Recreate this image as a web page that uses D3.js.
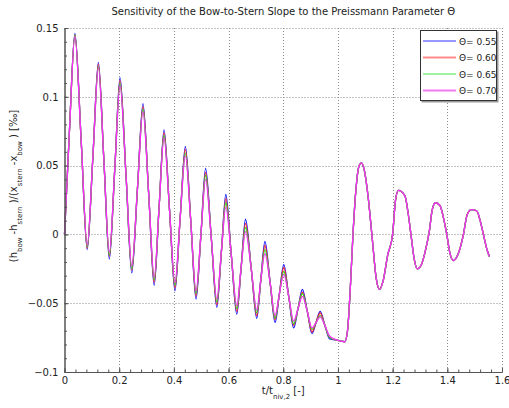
<!DOCTYPE html>
<html>
<head>
<meta charset="utf-8">
<script src="https://cdn.jsdelivr.net/npm/d3@7"></script>
<style>
  body { margin: 0; background: #fff; }
  text { font-family: 'DejaVu Sans', Verdana, sans-serif; fill: #222; }
</style>
</head>
<body>
<div id="chart"></div>
<script>
(function(d3) {
  'use strict';

  // time samples (t / t_niv,2)
  var tt = [
    0.000, 0.018, 0.038, 0.061, 0.083, 0.104, 0.124, 0.144, 0.164, 0.184,
    0.203, 0.225, 0.246, 0.267, 0.287, 0.308, 0.328, 0.346, 0.364, 0.384,
    0.404, 0.423, 0.442, 0.462, 0.481, 0.499, 0.516, 0.537, 0.557, 0.574,
    0.590, 0.610, 0.630, 0.646, 0.662, 0.683, 0.703, 0.718, 0.733, 0.752,
    0.770, 0.786, 0.802, 0.820, 0.838, 0.854, 0.870, 0.888, 0.905, 0.920,
    0.935, 0.952, 0.970,
    1.000, 1.025, 1.035, 1.045, 1.055, 1.066, 1.076, 1.086, 1.096, 1.110,
    1.125, 1.140, 1.152, 1.165, 1.182, 1.200, 1.210, 1.221, 1.245, 1.257,
    1.267, 1.279, 1.290, 1.305, 1.322, 1.334, 1.345, 1.357, 1.373, 1.386,
    1.398, 1.410, 1.422, 1.440, 1.459, 1.472, 1.488, 1.508, 1.520, 1.532,
    1.545, 1.554
  ];

  // common tail after t = 1 (all four runs coincide there)
  var tail = [
    -0.077, -0.078, -0.070, -0.040, 0.000, 0.033, 0.049, 0.052, 0.047, 0.028,
    -0.002, -0.032, -0.040, -0.034, -0.015, 0.000, 0.024, 0.032, 0.028, 0.015,
    0.000, -0.018, -0.025, -0.022, -0.010, 0.002, 0.018, 0.023, 0.021, 0.012,
    0.000, -0.014, -0.019, -0.014, 0.000, 0.014, 0.018, 0.017, 0.010, 0.000,
    -0.011, -0.016
  ];

  var s055 = [
    0.000, 0.075, 0.146, 0.068, -0.011, 0.057, 0.125, 0.054, -0.018, 0.048,
    0.114, 0.043, -0.028, 0.034, 0.095, 0.029, -0.037, 0.020, 0.076, 0.018,
    -0.041, 0.012, 0.064, 0.009, -0.047, 0.000, 0.048, -0.003, -0.053, -0.012,
    0.029, -0.015, -0.058, -0.024, 0.011, -0.025, -0.061, -0.033, -0.005, -0.035,
    -0.064, -0.043, -0.022, -0.045, -0.068, -0.054, -0.040, -0.056, -0.072, -0.064,
    -0.056, -0.066, -0.076
  ];
  var s060 = [
    0.000, 0.075, 0.145, 0.068, -0.010, 0.057, 0.124, 0.054, -0.016, 0.048,
    0.112, 0.043, -0.026, 0.034, 0.093, 0.029, -0.035, 0.020, 0.074, 0.018,
    -0.039, 0.012, 0.062, 0.009, -0.045, 0.000, 0.045, -0.003, -0.051, -0.012,
    0.026, -0.015, -0.056, -0.024, 0.008, -0.025, -0.059, -0.033, -0.008, -0.035,
    -0.062, -0.043, -0.024, -0.045, -0.066, -0.054, -0.042, -0.056, -0.071, -0.064,
    -0.057, -0.066, -0.075
  ];
  var s065 = [
    0.000, 0.075, 0.145, 0.068, -0.009, 0.057, 0.122, 0.054, -0.015, 0.048,
    0.110, 0.043, -0.025, 0.034, 0.091, 0.029, -0.033, 0.020, 0.072, 0.018,
    -0.037, 0.012, 0.059, 0.009, -0.043, 0.000, 0.043, -0.003, -0.049, -0.012,
    0.023, -0.015, -0.054, -0.024, 0.005, -0.025, -0.057, -0.033, -0.011, -0.035,
    -0.061, -0.043, -0.027, -0.045, -0.065, -0.054, -0.043, -0.056, -0.069, -0.064,
    -0.059, -0.066, -0.075
  ];
  var s070 = [
    0.000, 0.075, 0.144, 0.068, -0.008, 0.057, 0.121, 0.054, -0.013, 0.048,
    0.108, 0.043, -0.023, 0.034, 0.089, 0.029, -0.031, 0.020, 0.070, 0.018,
    -0.035, 0.012, 0.057, 0.009, -0.041, 0.000, 0.040, -0.003, -0.047, -0.012,
    0.020, -0.015, -0.052, -0.024, 0.002, -0.025, -0.055, -0.033, -0.014, -0.035,
    -0.059, -0.043, -0.029, -0.045, -0.063, -0.054, -0.045, -0.056, -0.068, -0.064,
    -0.060, -0.066, -0.074
  ];

  var thetas = ['0.55', '0.60', '0.65', '0.70'];
  var colors = ['#1414ff', '#ff2a2a', '#22e022', '#ff2cff'];
  var legendColors = ['#3030ff', '#ff8c8c', '#40e840', '#f07af0'];
  var runs = [s055, s060, s065, s070];

  var xTicks = [0, 0.2, 0.4, 0.6, 0.8, 1, 1.2, 1.4, 1.6];
  var yTicks = [-0.1, -0.05, 0, 0.05, 0.1, 0.15];

  var width = 509;
  var height = 408;
  var left = 64.5, right = 502, top = 28, bottom = 372;

  var x = d3.scaleLinear().domain([0, 1.6]).range([left, right]);
  var y = d3.scaleLinear().domain([-0.1, 0.15]).range([bottom, top]);

  var svg = d3.select('#chart')
    .append('svg')
    .attr('width', width)
    .attr('height', height);

  // dotted grid
  var grid = svg.append('g').attr('class', 'grid');
  grid.selectAll('.gx')
    .data(xTicks.slice(1))
    .enter()
    .append('line')
    .attr('x1', function(d) { return Math.round(x(d)) + 0.5; })
    .attr('x2', function(d) { return Math.round(x(d)) + 0.5; })
    .attr('y1', top)
    .attr('y2', bottom)
    .attr('stroke', '#8a8a8a')
    .attr('stroke-dasharray', '1,2');
  grid.selectAll('.gy')
    .data(yTicks.slice(1))
    .enter()
    .append('line')
    .attr('x1', left)
    .attr('x2', right)
    .attr('y1', function(d) { return Math.round(y(d)) + 0.5; })
    .attr('y2', function(d) { return Math.round(y(d)) + 0.5; })
    .attr('stroke', '#8a8a8a')
    .attr('stroke-dasharray', '1,2');

  // curves
  var line = d3.line()
    .x(function(d) { return x(d[0]); })
    .y(function(d) { return y(d[1]); })
    .curve(d3.curveMonotoneX);

  runs.forEach(function(vals, i) {
    var pts = tt.map(function(t, k) {
      return [t, k < vals.length ? vals[k] : tail[k - vals.length]];
    });
    svg.append('path')
      .datum(pts)
      .attr('d', line)
      .attr('fill', 'none')
      .attr('stroke', colors[i])
      .attr('stroke-width', 1.3);
  });

  // axes
  var xAxis = d3.axisBottom(x)
    .tickValues(xTicks)
    .tickSizeInner(-4)
    .tickSizeOuter(0)
    .tickPadding(5)
    .tickFormat(d3.format('~g'));
  var xMinor = d3.axisBottom(x)
    .tickValues(d3.range(0, 1.6001, 0.04))
    .tickSizeInner(-2.5)
    .tickSizeOuter(0)
    .tickFormat('');
  var yAxis = d3.axisLeft(y)
    .tickValues(yTicks)
    .tickSizeInner(-4)
    .tickSizeOuter(0)
    .tickPadding(6)
    .tickFormat(d3.format('~g'));
  var yMinor = d3.axisLeft(y)
    .tickValues(d3.range(-0.1, 0.1501, 0.01))
    .tickSizeInner(-2.5)
    .tickSizeOuter(0)
    .tickFormat('');

  [xMinor, xAxis].forEach(function(ax) {
    svg.append('g')
      .attr('transform', 'translate(0,' + bottom + ')')
      .call(ax);
  });
  [yMinor, yAxis].forEach(function(ax) {
    svg.append('g')
      .attr('transform', 'translate(' + left + ',0)')
      .call(ax);
  });
  svg.selectAll('.domain, .tick line').attr('stroke', '#555');
  svg.selectAll('.tick text')
    .style('font-family', "'DejaVu Sans', Verdana, sans-serif")
    .style('font-size', '10px')
    .attr('fill', '#222');

  // title
  svg.append('text')
    .attr('x', (left + right) / 2)
    .attr('y', 15)
    .attr('text-anchor', 'middle')
    .style('font-size', '10px')
    .text('Sensitivity of the Bow-to-Stern Slope to the Preissmann Parameter \u0398');

  // x label
  var xl = svg.append('text')
    .attr('x', (left + right) / 2)
    .attr('y', 394)
    .attr('text-anchor', 'middle')
    .style('font-size', '10px');
  xl.append('tspan').text('t/t');
  xl.append('tspan').attr('dy', 5).style('font-size', '7px').text('niv,2');
  xl.append('tspan').attr('dy', -5).text(' [-]');

  // y label
  var yl = svg.append('text')
    .attr('transform', 'translate(17,186) rotate(-90)')
    .attr('text-anchor', 'middle')
    .style('font-size', '10px');
  var parts = [['(h', 0], ['bow', 1], [' -h', 0], ['stern', 1], [' )/(x', 0],
               ['stern', 1], [' -x', 0], ['bow', 1], [' ) [\u2030]', 0]];
  var prev = 0;
  parts.forEach(function(p) {
    yl.append('tspan')
      .attr('dy', (p[1] - prev) * 5)
      .style('font-size', p[1] ? '7px' : '10px')
      .text(p[0]);
    prev = p[1];
  });

  // legend
  var lg = svg.append('g').attr('transform', 'translate(420,30)');
  lg.append('rect')
    .attr('x', 1.5).attr('y', 1.5)
    .attr('width', 77).attr('height', 71)
    .attr('fill', '#9a9a9a');
  lg.append('rect')
    .attr('x', 0.5).attr('y', 0.5)
    .attr('width', 76).attr('height', 70)
    .attr('fill', '#fff')
    .attr('stroke', '#333');
  var item = lg.selectAll('.item')
    .data(thetas)
    .enter()
    .append('g')
    .attr('transform', function(d, i) { return 'translate(0,' + (11 + i * 16.5) + ')'; });
  item.append('line')
    .attr('x1', 3).attr('x2', 36)
    .attr('stroke', function(d, i) { return legendColors[i]; })
    .attr('stroke-width', function(d, i) { return i % 2 ? 2 : 1; });
  item.append('text')
    .attr('x', 39)
    .attr('y', 3.5)
    .style('font-size', '9px')
    .text(function(d) { return '\u0398= ' + d; });

})(window.d3);
</script>
</body>
</html>
